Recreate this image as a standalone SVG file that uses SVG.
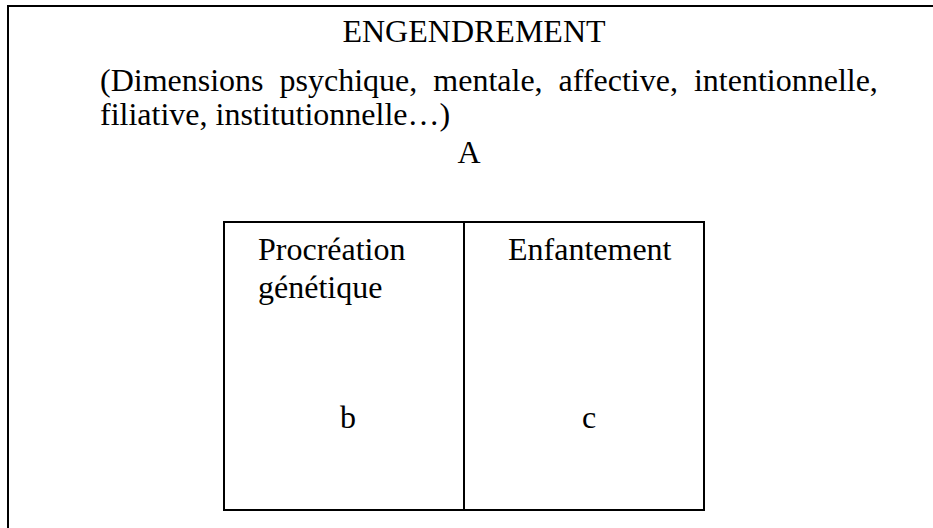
<svg xmlns="http://www.w3.org/2000/svg" width="933" height="528" viewBox="0 0 933 528">
<style>
.t{font-family:"Liberation Serif","Times New Roman","DejaVu Serif",serif;font-size:32px;fill:#000}
.ln{fill:none;stroke:#000;stroke-width:2}
</style>
<rect width="933" height="528" fill="#fff"/>
<g id="engendrement">
<path class="ln" d="M8,528 V6 H933"/>
<text class="t" x="474" y="42" text-anchor="middle">ENGENDREMENT</text>
<text class="t" x="100" y="91" word-spacing="8">(Dimensions psychique, mentale, affective, intentionnelle,</text>
<text class="t" x="100" y="125">filiative, institutionnelle…)</text>
<text class="t" x="469" y="163" text-anchor="middle">A</text>
</g>
<g id="procreation">
<rect class="ln" x="224" y="222" width="240" height="288"/>
<text class="t" x="258" y="260">Procréation</text>
<text class="t" x="258" y="298">génétique</text>
<text class="t" x="348" y="428" text-anchor="middle">b</text>
</g>
<g id="enfantement">
<rect class="ln" x="464" y="222" width="240" height="288"/>
<text class="t" x="508" y="260">Enfantement</text>
<text class="t" x="589" y="428" text-anchor="middle">c</text>
</g>
<g id="connectors"></g>
</svg>
